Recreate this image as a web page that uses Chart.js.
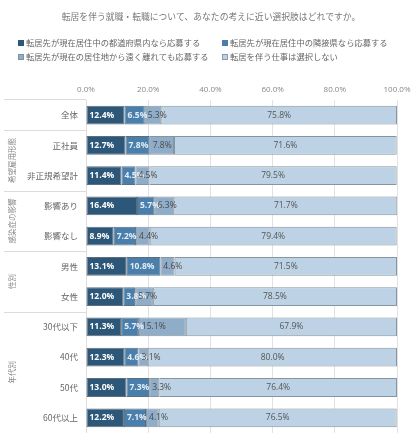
<!DOCTYPE html>
<html>
<head>
<meta charset="utf-8">
<script src="https://cdn.jsdelivr.net/npm/chart.js@4"></script>
<style>
  html, body { margin: 0; padding: 0; background: #fff; }
  #wrap { width: 420px; height: 446px; }
</style>
</head>
<body>
<div id="wrap"><canvas id="moveChart" width="420" height="446"></canvas></div>
<script>
const chartTitle = '転居を伴う就職・転職について、あなたの考えに近い選択肢はどれですか。';
const categories = ['全体', '正社員', '非正規希望計', '影響あり', '影響なし', '男性', '女性', '30代以下', '40代', '50代', '60代以上'];
const seriesNames = [
  '転居先が現在居住中の都道府県内なら応募する',
  '転居先が現在居住中の隣接県なら応募する',
  '転居先が現在の居住地から遠く離れても応募する',
  '転居を伴う仕事は選択しない'
];
const withinPref = [12.4, 12.7, 11.4, 16.4, 8.9, 13.1, 12.0, 11.3, 12.3, 13.0, 12.2];
const neighborPref = [6.5, 7.8, 4.5, 5.7, 7.2, 10.8, 3.8, 5.7, 4.6, 7.3, 7.1];
const farAway = [5.3, 7.8, 4.5, 6.3, 4.4, 4.6, 5.7, 15.1, 3.1, 3.3, 4.1];
const noMove = [75.8, 71.6, 79.5, 71.7, 79.4, 71.5, 78.5, 67.9, 80.0, 76.4, 76.5];
const tickLabels = ['0.0%', '20.0%', '40.0%', '60.0%', '80.0%', '100.0%'];
// group name, first row, last row
const groups = [
  ['希望雇用形態', 1, 2],
  ['感染症の影響', 3, 4],
  ['性別', 5, 6],
  ['年代別', 7, 10]
];

const colors = ['#2c5779', '#4a7eab', '#8fadc8', '#bdd3e5'];
const labelColors = ['#ffffff', '#e3edf6', '#4a4a4a', '#555555'];
const jp = '"Noto Sans CJK JP", "Noto Sans", sans-serif';
const num = '"Open Sans", "Noto Sans", sans-serif';

const decor = {
  id: 'decor',
  afterDraw(chart) {
    const c = chart.ctx;
    const y = chart.scales.y;
    const area = chart.chartArea;
    c.save();

    // title
    c.fillStyle = '#777';
    c.font = '8.8px ' + jp;
    c.textAlign = 'center';
    c.textBaseline = 'middle';
    c.fillText(chartTitle, 211, 17);

    // legend, two columns
    c.font = '8.3px ' + jp;
    c.textAlign = 'left';
    seriesNames.forEach((name, i) => {
      const lx = i % 2 === 0 ? 18 : 222;
      const ly = i < 2 ? 43 : 57;
      c.fillStyle = colors[i];
      c.fillRect(lx, ly - 3, 6, 6);
      if (i > 1) {
        c.strokeStyle = '#7d8c99';
        c.lineWidth = 0.8;
        c.strokeRect(lx + 0.5, ly - 2.5, 5, 5);
      }
      c.fillStyle = '#666';
      c.fillText(name, lx + 8, ly);
    });

    // separators in label column
    c.strokeStyle = '#dcdcdc';
    c.lineWidth = 1;
    const rowGap = y.getPixelForValue(1) - y.getPixelForValue(0);
    const lines = [area.top - 1, y.getPixelForValue(0) + rowGap / 2];
    groups.forEach(g => lines.push(y.getPixelForValue(g[2]) + rowGap / 2));
    lines.pop();
    lines.forEach(ly => {
      c.beginPath();
      c.moveTo(4, Math.round(ly) + 0.5);
      c.lineTo(area.left, Math.round(ly) + 0.5);
      c.stroke();
    });

    // vertical group labels
    c.fillStyle = '#888';
    c.font = '7.5px ' + jp;
    c.textAlign = 'center';
    groups.forEach(g => {
      const cy = (y.getPixelForValue(g[1]) + y.getPixelForValue(g[2])) / 2;
      c.save();
      c.translate(12, cy);
      c.rotate(-Math.PI / 2);
      c.fillText(g[0], 0, 0);
      c.restore();
    });

    // value labels
    chart.data.datasets.forEach((ds, di) => {
      const meta = chart.getDatasetMeta(di);
      meta.data.forEach((bar, i) => {
        const p = bar.getProps(['x', 'base', 'y'], true);
        const txt = ds.data[i].toFixed(1) + '%';
        c.fillStyle = labelColors[di];
        c.font = (di < 2 ? 'bold ' : '') + '8.5px ' + num;
        if (di === 3) {
          c.textAlign = 'center';
          c.fillText(txt, (p.x + p.base) / 2, p.y);
        } else {
          c.textAlign = 'left';
          c.fillText(txt, Math.min(p.x, p.base) + 3, p.y);
        }
      });
    });
    c.restore();
  }
};

const seriesValues = [withinPref, neighborPref, farAway, noMove];

new Chart(document.getElementById('moveChart'), {
  type: 'bar',
  data: {
    labels: categories,
    datasets: seriesValues.map((vals, i) => ({
      label: seriesNames[i],
      data: vals,
      backgroundColor: colors[i],
      borderColor: i < 2 ? '#5b6e7e' : '#8795a1',
      borderWidth: 1,
      borderSkipped: false,
      categoryPercentage: 1,
      barPercentage: 0.62
    }))
  },
  plugins: [decor],
  options: {
    indexAxis: 'y',
    responsive: false,
    animation: false,
    layout: { padding: { top: 80, right: 23, bottom: 8, left: 0 } },
    plugins: {
      legend: { display: false },
      title: { display: false },
      tooltip: { enabled: false }
    },
    scales: {
      x: {
        position: 'top',
        stacked: true,
        min: 0,
        max: 100,
        afterFit: s => { s.height = 20; },
        grid: { color: '#e2e2e2', drawTicks: false },
        border: { display: false },
        ticks: {
          stepSize: 20,
          padding: 5,
          color: '#888',
          font: { size: 8, family: num },
          callback: (v, i) => tickLabels[i]
        }
      },
      y: {
        stacked: true,
        afterFit: s => { s.width = 86; },
        grid: { display: false, drawTicks: false },
        border: { color: '#dddddd' },
        ticks: {
          padding: 8,
          color: '#666',
          font: { size: 8.5, family: jp }
        }
      }
    }
  }
});
</script>
</body>
</html>
